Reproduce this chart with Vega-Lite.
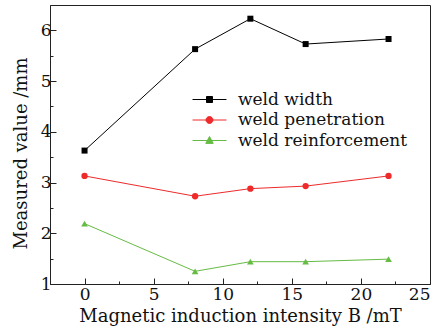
{
  "$schema": "https://vega.github.io/schema/vega-lite/v6.json",
  "width": 380,
  "height": 279,
  "autosize": {"type": "none"},
  "padding": {"left": 50, "top": 5, "right": 9, "bottom": 51},
  "background": "white",
  "config": {
    "view": {"stroke": "#222", "strokeWidth": 1},
    "font": "DejaVu Serif",
    "axis": {
      "grid": false,
      "domainColor": "#222",
      "tickColor": "#222",
      "labelColor": "#111",
      "titleColor": "#111",
      "labelFont": "DejaVu Serif",
      "titleFont": "DejaVu Serif",
      "labelFontSize": 17,
      "titleFontSize": 18,
      "titleFontWeight": "normal"
    }
  },
  "data": {
    "values": [
      {"B": 0, "value": 3.63, "series": "weld width"},
      {"B": 8, "value": 5.63, "series": "weld width"},
      {"B": 12, "value": 6.23, "series": "weld width"},
      {"B": 16, "value": 5.73, "series": "weld width"},
      {"B": 22, "value": 5.83, "series": "weld width"},
      {"B": 0, "value": 3.13, "series": "weld penetration"},
      {"B": 8, "value": 2.73, "series": "weld penetration"},
      {"B": 12, "value": 2.88, "series": "weld penetration"},
      {"B": 16, "value": 2.93, "series": "weld penetration"},
      {"B": 22, "value": 3.13, "series": "weld penetration"},
      {"B": 0, "value": 2.19, "series": "weld reinforcement"},
      {"B": 8, "value": 1.25, "series": "weld reinforcement"},
      {"B": 12, "value": 1.44, "series": "weld reinforcement"},
      {"B": 16, "value": 1.44, "series": "weld reinforcement"},
      {"B": 22, "value": 1.49, "series": "weld reinforcement"}
    ]
  },
  "encoding": {
    "x": {
      "field": "B", "type": "quantitative",
      "scale": {"domain": [-2.5, 25], "nice": false, "zero": false},
      "axis": {
        "title": "Magnetic induction intensity B /mT",
        "values": [0, 2.5, 5, 7.5, 10, 12.5, 15, 17.5, 20, 22.5, 25],
        "labelExpr": "datum.value % 5 === 0 ? format(datum.value, 'd') : ''",
        "tickSize": {"condition": {"test": "datum.value % 5 === 0", "value": -6}, "value": -3},
        "labelPadding": 8,
        "titlePadding": 5
      }
    },
    "y": {
      "field": "value", "type": "quantitative",
      "scale": {"domain": [1, 6.5], "nice": false, "zero": false},
      "axis": {
        "title": "Measured value /mm",
        "values": [1, 1.5, 2, 2.5, 3, 3.5, 4, 4.5, 5, 5.5, 6],
        "labelExpr": "datum.value % 1 === 0 ? format(datum.value, 'd') : ''",
        "tickSize": {"condition": {"test": "datum.value % 1 === 0", "value": -6}, "value": -3},
        "labelPadding": 5,
        "titlePadding": 10,
        "titleY": 148
      }
    },
    "color": {
      "field": "series", "type": "nominal",
      "scale": {
        "domain": ["weld width", "weld penetration", "weld reinforcement"],
        "range": ["#000000", "#ee2a2a", "#66bb44"]
      },
      "legend": {
        "title": null,
        "orient": "none",
        "legendX": 151,
        "legendY": 86,
        "labelFont": "DejaVu Serif",
        "labelFontSize": 17,
        "labelColor": "#111",
        "labelLimit": 300,
        "symbolSize": 144,
        "symbolStrokeWidth": 1,
        "labelOffset": 20,
        "rowPadding": 2.5,
        "encode": {
          "symbols": {
            "update": {
              "shape": {"signal": "datum.value === 'weld width' ? 'M-2.83,0H2.83M-0.5,-0.5H0.5V0.5H-0.5Z' : datum.value === 'weld penetration' ? 'M-2.83,0H2.83M0.58,0A0.58,0.58,0,1,1,-0.58,0A0.58,0.58,0,1,1,0.58,0Z' : 'M-2.83,0H2.83M0,-0.66L0.62,0.48H-0.62Z'"},
              "fill": {"scale": "color", "field": "value"},
              "fillOpacity": {"value": 1}
            }
          }
        }
      }
    }
  },
  "layer": [
    {"mark": {"type": "line", "strokeWidth": 1}},
    {
      "transform": [{"filter": "datum.series === 'weld width'"}],
      "mark": {"type": "point", "shape": "square", "filled": true, "opacity": 1, "size": 36}
    },
    {
      "transform": [{"filter": "datum.series === 'weld penetration'"}],
      "mark": {"type": "point", "shape": "circle", "filled": true, "opacity": 1, "size": 40}
    },
    {
      "transform": [{"filter": "datum.series === 'weld reinforcement'"}],
      "mark": {"type": "point", "shape": "triangle-up", "filled": true, "opacity": 1, "size": 45}
    }
  ]
}
